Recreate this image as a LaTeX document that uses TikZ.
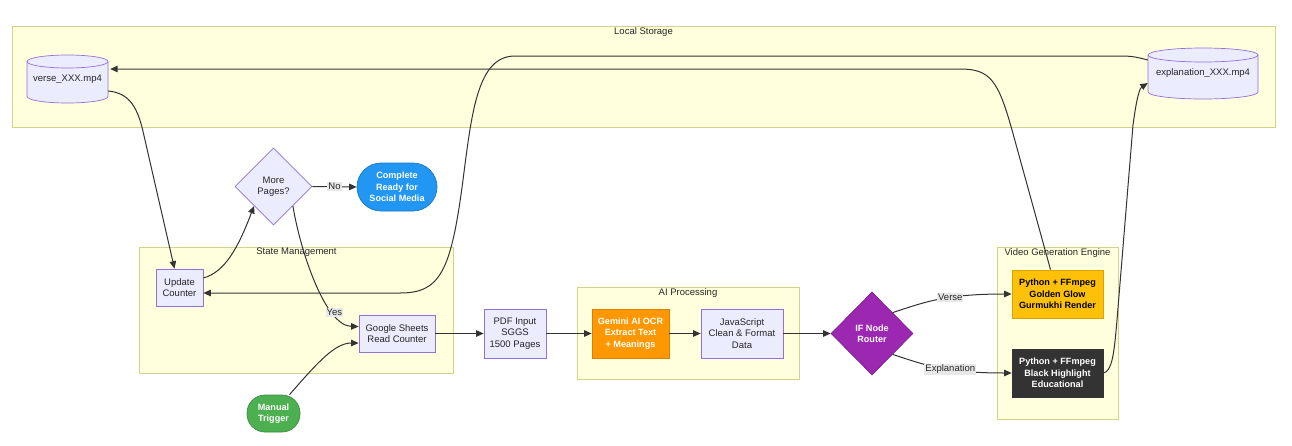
\documentclass[tikz,border=0pt]{standalone}
\usepackage{fontspec}
\setmainfont{Liberation Sans}
\usetikzlibrary{shapes.geometric,arrows.meta,calc}
\definecolor{nfill}{HTML}{ECECFF}
\definecolor{nstroke}{HTML}{9370DB}
\definecolor{cfill}{HTML}{FFFFDE}
\definecolor{cstroke}{HTML}{D2D28A}
\definecolor{edgec}{HTML}{333333}
\definecolor{lblbg}{HTML}{E8E8E8}
\definecolor{blue1}{HTML}{2196F3}
\definecolor{green1}{HTML}{4CAF50}
\definecolor{orange1}{HTML}{FF9800}
\definecolor{purple1}{HTML}{9C27B0}
\definecolor{gold1}{HTML}{FFC107}
\definecolor{dark1}{HTML}{333333}
\tikzset{
  x=1pt, y=1pt,
  fnt/.style={font=\fontsize{9.5}{11.5}\selectfont},
  bfnt/.style={font=\fontsize{9.1}{11.3}\selectfont\bfseries},
  box/.style={fnt, draw=nstroke, fill=nfill, line width=0.7pt, align=center, inner sep=0pt, text=black!85},
  cbox/.style={box, bfnt},
  cluster/.style={draw=cstroke, fill=cfill, line width=0.8pt, inner sep=0pt},
  clabel/.style={fnt, text=black!85, inner sep=0pt, anchor=north},
  cyl/.style={draw=nstroke, fill=nfill, line width=0.7pt},
  dia/.style={box, diamond, aspect=1},
  edge/.style={draw=edgec, line width=1pt, -{Triangle[length=7.5pt,width=6.5pt]}},
  elabel/.style={fnt, fill=lblbg, inner sep=1pt, text=black!85},
}
\begin{document}
\begin{tikzpicture}
\useasboundingbox (0,0) rectangle (1292,-445);
\fill[white] (0,0) rectangle (1292,-445);
% clusters
\node[cluster, minimum width=1263, minimum height=101] (ls) at (643.5,-76.5) {};
\node[clabel] at ($(ls.north)+(0,-1.5)$) {Local Storage};
\node[cluster, minimum width=314, minimum height=126] (sm) at (296.5,-310) {};
\node[clabel] at ($(sm.north)+(0,-1.5)$) {State Management};
\node[cluster, minimum width=222, minimum height=92] (ai) at (688,-333) {};
\node[clabel] at ($(ai.north)+(0,-1.5)$) {AI Processing};
\node[cluster, minimum width=121, minimum height=172] (vg) at (1057.5,-333) {};
\node[clabel] at ($(vg.north)+(0,-1.5)$) {Video Generation Engine};
% cylinders
\path[cyl] (27,-61.5) -- (27,-96.5) arc[start angle=180,end angle=360,x radius=40.5,y radius=6.5] -- (108,-61.5) arc[start angle=0,end angle=180,x radius=40.5,y radius=6.5] -- cycle;
\draw[cyl, fill=none] (27,-61.5) arc[start angle=180,end angle=360,x radius=40.5,y radius=6.5];
\node[fnt, inner sep=0pt, minimum width=81, minimum height=48, text=black!85] (v) at (67.5,-79) {verse\_XXX.mp4};
\path[cyl] (1148,-55) -- (1148,-92) arc[start angle=180,end angle=360,x radius=55,y radius=7] -- (1258,-55) arc[start angle=0,end angle=180,x radius=55,y radius=7] -- cycle;
\draw[cyl, fill=none] (1148,-55) arc[start angle=180,end angle=360,x radius=55,y radius=7];
\node[fnt, inner sep=0pt, minimum width=110, minimum height=51, text=black!85] (ex) at (1203,-73.5) {explanation\_XXX.mp4};
% nodes
\node[box, minimum width=47, minimum height=37] (uc) at (179.5,-287.5) {Update\\Counter};
\node[box, minimum width=76, minimum height=37] (gs) at (397,-333.5) {Google Sheets\\Read Counter};
\node[dia, minimum width=77, minimum height=77] (mp) at (273.5,-186.5) {More\\Pages?};
\node[cbox, draw=blue1!80!black, fill=blue1, text=white, rounded corners=24, minimum width=80, minimum height=48] (cp) at (397,-187) {Complete\\Ready for\\Social Media};
\node[cbox, draw=green1!80!black, fill=green1, text=white, rounded corners=18, minimum width=53, minimum height=37] (mt) at (273.5,-413.5) {Manual\\Trigger};
\node[box, minimum width=62, minimum height=49] (pdf) at (515,-333.5) {PDF Input\\SGGS\\1500 Pages};
\node[cbox, draw=orange1!85!black, fill=orange1, text=white, minimum width=77, minimum height=49] (gem) at (630.5,-333.5) {Gemini AI OCR\\Extract Text\\+ Meanings};
\node[box, minimum width=82, minimum height=49] (js) at (742,-333.5) {JavaScript\\Clean \& Format\\Data};
\node[cbox, diamond, aspect=1, draw=purple1!80!black, fill=purple1, text=white, minimum width=82, minimum height=83] (if) at (872,-333.5) {IF Node\\Router};
\node[cbox, draw=gold1!85!black, fill=gold1, text=black, minimum width=91, minimum height=48] (gg) at (1057.5,-294) {Python + FFmpeg\\Golden Glow\\Gurmukhi Render};
\node[cbox, draw=dark1, fill=dark1, text=white, minimum width=91, minimum height=48] (bh) at (1057.5,-373) {Python + FFmpeg\\Black Highlight\\Educational};
% edges
\draw[edge] ($(v.east)+(0,-12)$) .. controls (128,-93) and (136,-105) .. (142,-127) -- ($(uc.north)+(-5,0)$);
\draw[edge] ($(uc.east)+(0,9.5)$) .. controls (225,-272) and (238,-248) .. (mp.south west);
\draw[edge] (mp.east) -- node[elabel]{No} (cp.west);
\draw[edge] (mp.south east) .. controls (300,-250) and (325,-326) .. ($(gs.west)+(0,7)$) node[elabel, pos=0.74]{Yes};
\draw[edge] ($(mt.north)+(16,0)$) .. controls (318,-362) and (335,-343) .. ($(gs.west)+(0,-9.5)$);
\draw[edge] (gs.east) -- (pdf.west);
\draw[edge] (pdf.east) -- (gem.west);
\draw[edge] (gem.east) -- (js.west);
\draw[edge] (js.east) -- (if.west);
\draw[edge] (if.north east) .. controls (925,-302) and (945,-294) .. (gg.west) node[elabel, pos=0.6]{Verse};
\draw[edge] (if.south east) .. controls (925,-365) and (945,-373) .. (bh.west) node[elabel, pos=0.6]{Explanation};
\draw[edge] ($(gg.north)+(-7,0)$) -- (1012,-130) .. controls (998,-80) and (990,-69) .. (960,-69) -- ($(v.east)+(2,10)$);
\draw[edge] (bh.east) .. controls (1112,-371) and (1114,-355) .. (1117,-320) -- (1133,-125) .. controls (1137,-95) and (1140,-88) .. ($(ex.west)+(0,-9.5)$);
\draw[edge] ($(ex.west)+(0,13.5)$) .. controls (1132,-56) .. (1112,-56) -- (515,-56) .. controls (478,-56) and (472,-110) .. (463,-180) .. controls (451,-272) and (440,-293) .. (400,-293) -- ($(uc.east)+(0,-5.5)$);
\end{tikzpicture}
\end{document}
